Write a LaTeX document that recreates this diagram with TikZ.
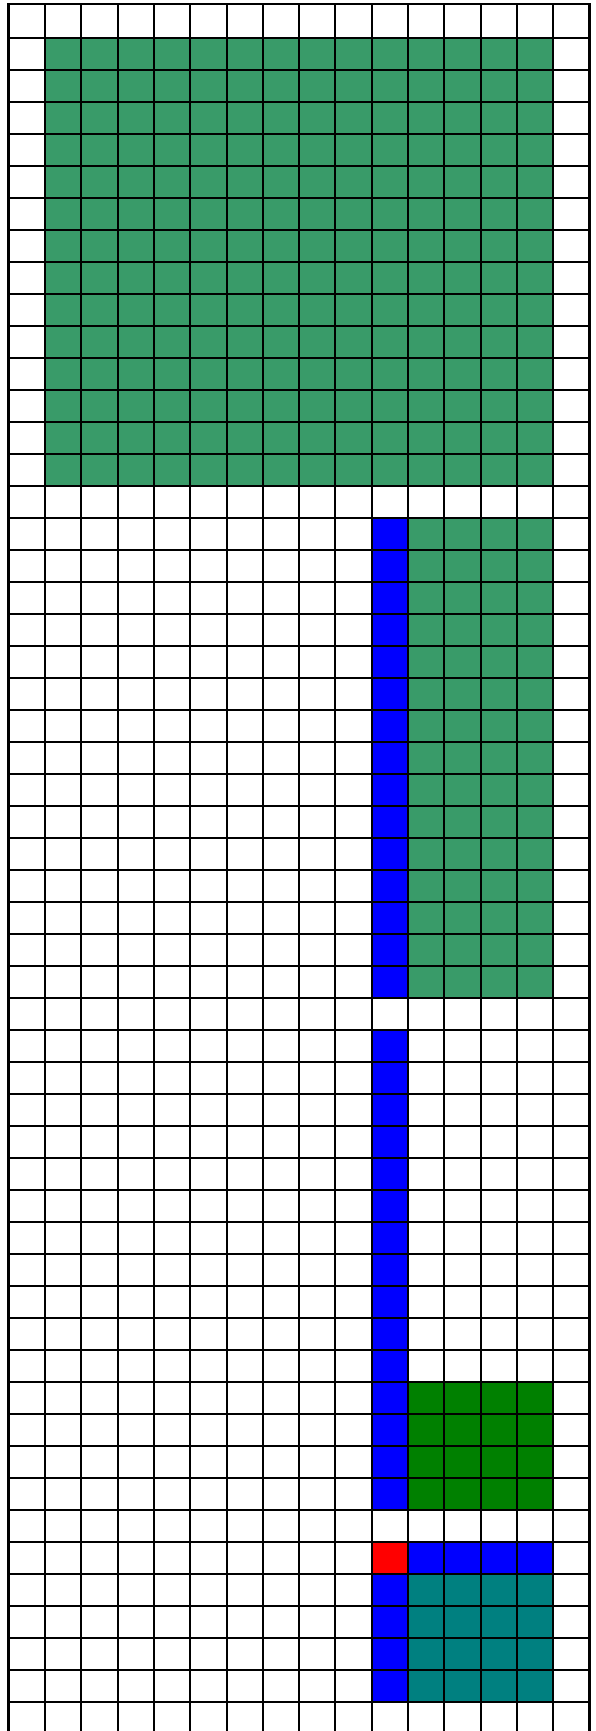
\documentclass[tikz,border=0pt]{standalone}
\definecolor{sgreen}{RGB}{57,155,105}
\definecolor{dgreen}{RGB}{0,128,0}
\definecolor{cblue}{RGB}{0,0,255}
\definecolor{cred}{RGB}{255,0,0}
\definecolor{cteal}{RGB}{0,128,128}
\newcommand{\cx}[1]{8.7+36.31*#1}
\newcommand{\ry}[1]{6.3+32*#1}
\begin{document}
\begin{tikzpicture}[x=1pt,y=-1pt,
  gridline/.style={line width=2pt,black},
  outerline/.style={line width=2.8pt,black,line cap=rect}]
\useasboundingbox (0,0) rectangle (595,1731);
\clip (0,0) rectangle (595,1731);
% fills
\fill[sgreen] (\cx{1},\ry{1}) rectangle (\cx{15},\ry{15});
\fill[cblue]  (\cx{10},\ry{16}) rectangle (\cx{11},\ry{31});
\fill[sgreen] (\cx{11},\ry{16}) rectangle (\cx{15},\ry{31});
\fill[cblue]  (\cx{10},\ry{32}) rectangle (\cx{11},\ry{47});
\fill[dgreen] (\cx{11},\ry{43}) rectangle (\cx{15},\ry{47});
\fill[cred]   (\cx{10},\ry{48}) rectangle (\cx{11},\ry{49});
\fill[cblue]  (\cx{11},\ry{48}) rectangle (\cx{15},\ry{49});
\fill[cblue]  (\cx{10},\ry{49}) rectangle (\cx{11},\ry{53});
\fill[cteal]  (\cx{11},\ry{49}) rectangle (\cx{15},\ry{53});
% grid lines
\foreach \i in {1,...,15} \draw[gridline] (\cx{\i},4) -- (\cx{\i},1745);
\foreach \k in {1,...,53} \draw[gridline] (\cx{0},\ry{\k}) -- (\cx{16},\ry{\k});
% outer border
\draw[outerline] (\cx{0},1745) -- (\cx{0},4) -- (\cx{16},4) -- (\cx{16},1745);
\end{tikzpicture}
\end{document}
